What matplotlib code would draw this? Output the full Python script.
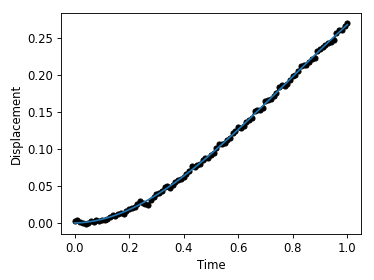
import numpy as np
import matplotlib
matplotlib.use("Agg")
import matplotlib.pyplot as plt

# measured samples, one every 0.01 s
time = [i / 100 for i in range(101)]
displacement = [
    0.003, 0.004, 0.002, 0.001, -0.001, 0.000, 0.003, 0.002, 0.004, 0.003,
    0.005, 0.004, 0.006, 0.009, 0.011, 0.010, 0.012, 0.014, 0.013, 0.017,
    0.019, 0.020, 0.022, 0.026, 0.030, 0.028, 0.026, 0.025, 0.032, 0.036,
    0.039, 0.041, 0.044, 0.049, 0.050, 0.048, 0.051, 0.056, 0.058, 0.060,
    0.063, 0.067, 0.070, 0.077, 0.076, 0.078, 0.080, 0.085, 0.088, 0.088,
    0.092, 0.095, 0.101, 0.107, 0.107, 0.108, 0.112, 0.115, 0.121, 0.124,
    0.130, 0.129, 0.131, 0.136, 0.139, 0.142, 0.151, 0.152, 0.152, 0.156,
    0.165, 0.166, 0.167, 0.171, 0.176, 0.183, 0.187, 0.185, 0.188, 0.193,
    0.198, 0.200, 0.205, 0.212, 0.213, 0.213, 0.217, 0.222, 0.223, 0.232,
    0.235, 0.237, 0.240, 0.243, 0.244, 0.247, 0.256, 0.260, 0.261, 0.266,
    0.270,
]

# smooth fit through the measurements
coeffs = np.polyfit(time, displacement, 3)
fit = np.polyval(coeffs, time)

dpi = 80
fig = plt.figure(figsize=(374 / dpi, 280 / dpi), dpi=dpi)
ax = fig.add_subplot(111)
fig.subplots_adjust(left=0.163, right=0.965, bottom=0.164, top=0.954)

ax.plot(time, displacement, "ko-", markersize=4.5, linewidth=1.5)
ax.plot(time, fit, color="#1f77b4", linewidth=1.5)

ax.tick_params(labelsize=10.5)
ax.set_xlabel("Time", fontsize=10.5)
ax.set_ylabel("Displacement", fontsize=10.5)

fig.savefig("out.png", dpi=dpi)
